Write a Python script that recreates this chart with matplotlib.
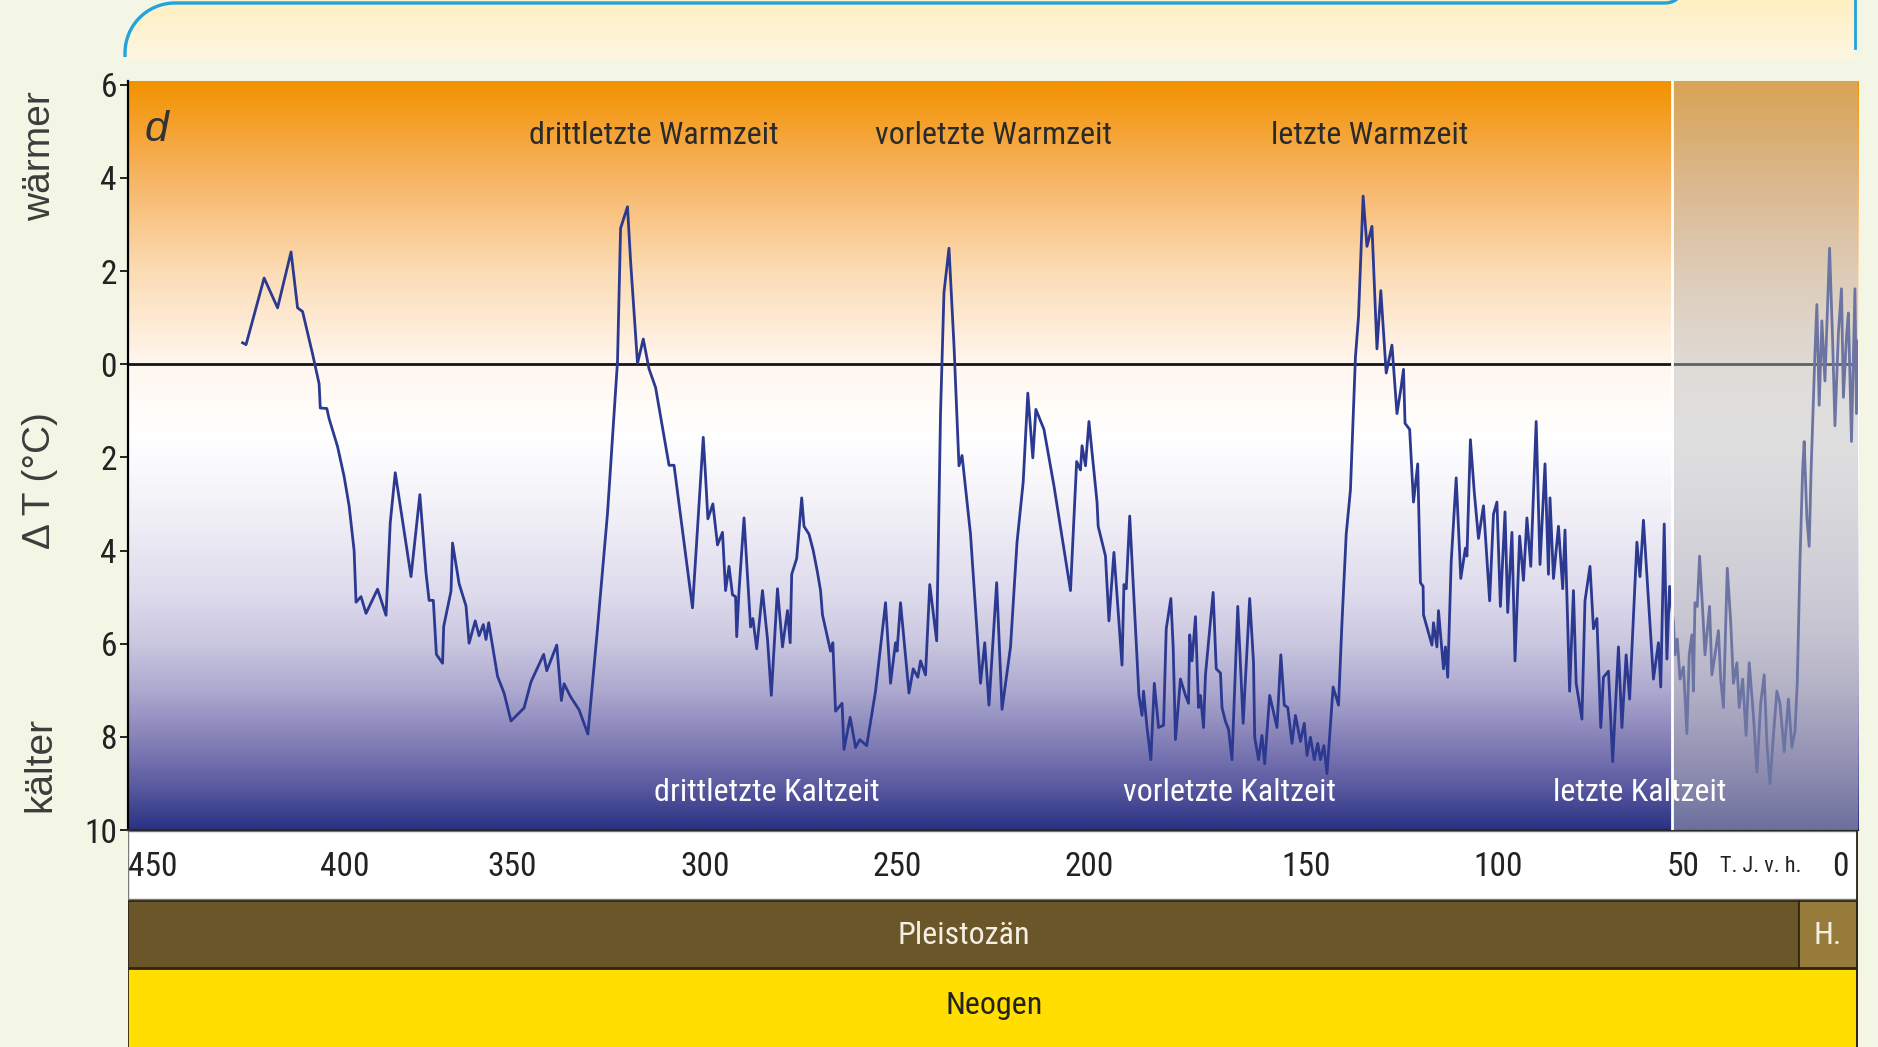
import os
import numpy as np
import matplotlib
matplotlib.use("Agg")
import matplotlib.pyplot as plt
from matplotlib import font_manager as fm
from matplotlib.font_manager import FontProperties
from matplotlib.colors import LinearSegmentedColormap, Normalize
from matplotlib.patches import Rectangle, Polygon
from matplotlib.transforms import ScaledTranslation

W, H = 1878, 1047
SANS = ["Liberation Sans", "DejaVu Sans"]

# temperature difference to today (degC), thousand years before present
AGE_KA = [
    420.2, 419.3, 414.6, 411.1, 407.6, 405.9, 404.6, 402.0, 400.3, 400.0,
    398.3, 397.7, 395.5, 393.8, 392.5, 391.2, 390.7, 389.4, 388.1, 385.1,
    382.9, 381.8, 380.5, 376.4, 374.1, 372.5, 371.7, 370.6, 369.8, 368.2,
    367.9, 366.0, 365.6, 363.9, 362.1, 361.3, 359.7, 358.7, 357.6, 356.9,
    356.2, 353.9, 352.2, 350.4, 347.0, 345.2, 341.9, 341.1, 338.5, 337.3,
    336.6, 334.9, 332.7, 330.4, 327.9, 325.3, 322.7, 321.9, 320.1, 319.3,
    317.5, 316.0, 314.5, 312.8, 309.3, 308.0, 303.2, 300.4, 299.8, 299.2,
    297.9, 296.7,
    295.4, 294.6, 293.7, 292.8, 292.0, 291.7, 291.1, 289.8, 288.1, 287.5,
    286.5, 285.0, 283.7, 282.7, 281.1, 279.8, 278.5, 277.8, 277.4, 276.1,
    274.8, 274.2, 272.9, 271.8, 270.7, 269.9, 269.4, 267.3, 266.7, 266.0,
    264.3, 263.8, 262.2, 260.8, 259.7, 257.9, 255.6, 253.0, 251.7, 250.4,
    250.0, 249.1, 246.9, 245.8, 244.6, 243.9, 242.6, 241.5, 239.7, 238.7,
    237.8, 236.5, 235.2, 233.9, 233.1, 230.9, 228.3, 227.2, 226.1, 224.1,
    222.7, 220.5, 218.8, 217.2, 216.0, 214.7, 213.9, 211.8, 209.2, 204.9,
    203.3, 202.3, 201.9, 201.0, 200.1, 198.0, 197.7, 195.8, 194.9, 193.6,
    192.3, 191.5, 191.0, 190.4, 189.5, 187.1, 186.3, 185.9, 185.0, 184.0,
    183.1, 182.0, 180.7, 180.0, 178.8, 178.2, 177.6, 176.3, 175.0, 174.2,
    173.9, 173.3, 172.4, 171.6, 171.1, 170.3, 169.8, 167.8, 167.0, 165.9,
    165.5, 164.6, 163.8, 162.9, 161.4, 160.0, 158.3, 157.3, 157.0, 156.0,
    155.1, 154.4, 153.1, 151.2, 150.2, 149.3, 148.4, 147.3, 146.4, 145.1,
    144.1, 143.4, 142.5, 141.5, 140.6, 139.9, 139.0, 138.2, 136.6, 135.2,
    134.3, 133.2, 132.1, 130.8, 130.0, 128.8, 127.8, 126.5, 125.2, 124.2,
    122.8, 121.3, 120.0, 119.0, 118.3, 117.9, 116.7, 115.7, 114.6, 113.9,
    113.2, 113.1, 110.9, 110.5, 109.6, 109.2, 107.9, 107.4, 106.8, 105.9,
    104.6, 103.4, 102.2, 101.8, 100.9, 99.9, 98.8, 97.5, 95.9, 94.9,
    94.0, 93.1, 91.9, 91.2, 90.1, 89.3, 88.1, 87.1, 86.2, 85.2,
    83.8, 82.8, 81.5, 80.6, 80.2, 79.3, 78.0, 76.9, 76.3, 75.1,
    74.1, 73.4, 71.9, 71.1, 69.8, 68.9, 68.0, 67.0, 66.3, 65.0,
    63.9, 62.4, 61.5, 60.4, 59.5, 57.6, 56.8, 55.9, 53.3, 52.0,
    51.4, 50.5,
    49.8, 49.1, 48.1, 47.7, 47.1, 46.4, 45.5, 44.6, 44.0, 43.3,
    42.9, 42.5, 41.9, 41.3, 40.5, 39.9, 38.7, 38.1, 37.3, 36.4,
    35.8, 35.1, 34.1, 33.2, 32.5, 31.6, 31.0, 30.1, 29.2, 28.4,
    27.3, 26.4, 25.4, 24.5, 23.8, 23.0, 22.1, 21.2, 20.4, 19.3,
    18.2, 17.3, 16.5, 15.9, 15.2, 14.5, 14.1, 13.4, 12.8, 12.3,
    11.7, 11.3, 10.8, 10.2, 9.5, 8.7, 7.5, 6.7, 6.1, 5.2,
    4.4, 3.9, 3.1, 2.6, 1.8, 0.9, 0.5, 0.0,
]
DELTA_T = [
    0.46, 0.42, 1.85, 1.21, 2.41, 1.21, 1.13, 0.22, -0.42, -0.94,
    -0.95, -1.17, -1.77, -2.41, -3.04, -4.00, -5.11, -4.99, -5.35, -4.83,
    -5.39, -3.40, -2.33, -4.56, -2.80, -4.48, -5.07, -5.07, -6.23, -6.42,
    -5.63, -4.87, -3.84, -4.71, -5.19, -5.99, -5.51, -5.83, -5.59, -5.91,
    -5.55, -6.70, -7.06, -7.66, -7.38, -6.82, -6.23, -6.58, -6.03, -7.22,
    -6.86, -7.14, -7.42, -7.94, -5.67, -3.20, 0.06, 2.92, 3.38, 2.21,
    0.02, 0.54, -0.10, -0.50, -2.17, -2.17, -5.23, -1.57, -2.41, -3.32,
    -3.00, -3.88,
    -3.61, -4.86, -4.34, -4.95, -4.99, -5.85, -4.86, -3.30, -5.64, -5.46,
    -6.11, -4.86, -5.90, -7.11, -4.82, -6.07, -5.29, -5.98, -4.51, -4.17,
    -2.87, -3.48, -3.65, -4.00, -4.47, -4.86, -5.38, -6.16, -5.98, -7.45,
    -7.28, -8.27, -7.58, -8.23, -8.06, -8.19, -7.02, -5.12, -6.85, -5.98,
    -6.16, -5.12, -7.06, -6.54, -6.72, -6.37, -6.67, -4.73, -5.94, -1.06,
    1.54, 2.49, 0.41, -2.18, -1.96, -3.65, -6.85, -5.98, -7.32, -4.69,
    -7.41, -6.07, -3.82, -2.53, -0.62, -2.01, -0.97, -1.40, -2.61, -4.86,
    -2.09, -2.27, -1.75, -2.18, -1.23, -2.96, -3.48, -4.12, -5.51, -4.04,
    -5.55, -6.46, -4.73, -4.82, -3.26, -7.11, -7.54, -7.02, -7.80, -8.49,
    -6.85, -7.80, -7.75, -5.68, -5.03, -6.07, -8.06, -6.76, -7.11, -7.28,
    -5.81, -6.37, -5.42, -7.37, -7.11, -7.80, -6.67, -4.90, -6.54, -6.63,
    -7.37, -7.67, -7.84, -8.49, -5.20, -7.71, -5.03, -6.41, -8.01, -8.49,
    -7.97, -8.58, -7.11, -7.80, -6.24, -7.32, -7.37, -8.14, -7.54, -8.10,
    -7.71, -8.40, -8.01, -8.49, -8.14, -8.49, -8.19, -8.79, -6.93, -7.32,
    -5.55, -3.65, -2.70, 0.15, 1.02, 3.61, 2.53, 2.96, 0.33, 1.58,
    -0.19, 0.41, -1.06, -0.54, -0.11, -1.27, -1.40, -2.96, -2.14, -4.69,
    -4.77, -5.38, -6.03, -5.55, -6.07, -5.29, -6.54, -6.07, -6.72, -4.25,
    -2.44, -4.60, -3.95, -4.12, -1.62, -2.74, -3.74, -3.04, -5.08, -3.22,
    -2.96, -5.20, -3.17, -5.33, -3.61, -6.37, -3.69, -4.64, -3.30, -4.34,
    -1.23, -4.30, -2.14, -4.51, -2.87, -4.60, -3.48, -4.82, -3.56, -7.02,
    -4.86, -6.85, -7.62, -5.08, -4.34, -5.68, -5.46, -7.80, -6.72, -6.59,
    -8.53, -6.07, -7.80, -6.24, -7.19, -3.82, -4.56, -3.35, -6.76, -5.98,
    -6.93, -3.43,
    -6.33, -4.77, -5.55, -6.24, -5.90, -6.76, -6.50, -7.93, -6.24, -5.81,
    -7.02, -5.12, -5.20, -4.12, -5.29, -6.24, -5.20, -6.67, -6.24, -5.72,
    -6.76, -7.37, -4.38, -5.55, -6.85, -6.41, -7.37, -6.76, -7.97, -6.41,
    -7.54, -8.75, -7.28, -6.67, -8.14, -9.01, -7.97, -7.02, -7.28, -8.32,
    -7.19, -8.23, -7.88, -6.85, -4.25, -2.27, -1.66, -3.30, -3.91, -2.27,
    -0.80, 0.24, 1.28, -0.88, 0.93, -0.36, 2.49, 0.50, -1.32, 0.67,
    1.62, -0.71, 0.59, 1.10, -1.66, 1.62, -1.06, 0.50,
]
assert len(AGE_KA) == len(DELTA_T)

X_TICKS = [450, 400, 350, 300, 250, 200, 150, 100, 50, 0]
X_TICK_LABELS = [str(t) for t in X_TICKS]
Y_TICKS = [6, 4, 2, 0, -2, -4, -6, -8, -10]
Y_TICK_LABELS = ["6", "4", "2", "0", "2", "4", "6", "8", "10"]

WARM_PERIODS = ["drittletzte Warmzeit", "vorletzte Warmzeit", "letzte Warmzeit"]
COLD_PERIODS = ["drittletzte Kaltzeit", "vorletzte Kaltzeit", "letzte Kaltzeit"]
EPOCHS = ["Pleistozän", "H."]
SYSTEM = "Neogen"
GREY_FROM_KA = 48.5
YMIN, YMAX = -10, 6.08


def find_narrow():
    """regular-weight condensed sans from the installed fonts, if there is one"""
    paths = sorted({f.fname for f in fm.fontManager.ttflist})
    prefs = ["LiberationSansNarrow-Regular", "NotoSans-Condensed.", "RobotoCondensed-Regular",
             "DejaVuSansCondensed.", "OpenSans_Condensed-Regular", "NotoSans-ExtraCondensed.",
             "NotoSans-SemiCondensed."]
    for p in prefs:
        for f in paths:
            if p in os.path.basename(f):
                return f
    skip = ("Bold", "Italic", "Oblique", "Light", "Thin", "Black", "Medium", "Mono", "Serif")
    for f in paths:
        b = os.path.basename(f)
        if ("Condensed" in b or "Narrow" in b) and not any(k in b for k in skip):
            return f
    return None


NARROW_PATH = find_narrow()


def narrow(size):
    if NARROW_PATH:
        return FontProperties(fname=NARROW_PATH, size=size)
    return FontProperties(family="DejaVu Sans", size=size * 0.72)


def box(l, t, r, b):
    """figure-fraction rect from pixel edges, measured from the top-left"""
    return [l / W, 1 - b / H, (r - l) / W, (b - t) / H]


fig = plt.figure(figsize=(W / 100, H / 100), dpi=100, facecolor="#f3f6e4")

# pale yellow strip at the top with a cyan rim
top = fig.add_axes(box(0, 0, W, 60))
th = np.linspace(np.pi, 1.5 * np.pi, 30)
arc_x, arc_y = 175 + 50 * np.cos(th), 53 + 50 * np.sin(th)
panel = Polygon(np.column_stack([np.r_[125, arc_x, 175, 1855, 1855],
                                 np.r_[60, arc_y, 0, 0, 60]]), closed=True, fc="none", ec="none")
top.add_patch(panel)
yl = LinearSegmentedColormap.from_list("yl", ["#fff0c2", "#fdf6e2"])
im = top.imshow(np.linspace(0, 1, 60).reshape(-1, 1), extent=[0, W, 60, 0], cmap=yl, aspect="auto")
im.set_clip_path(panel)
th2 = np.linspace(0.5 * np.pi, 0, 20)
top.plot(np.r_[125, arc_x, 1665 + 20 * np.cos(th2)], np.r_[57, arc_y, -17 + 20 * np.sin(th2)],
         color="#22a3de", lw=2.4, solid_capstyle="butt")
top.plot([1855, 1855], [0, 48], color="#22a3de", lw=2)
top.set_xlim(0, W); top.set_ylim(60, 0); top.axis("off")

# main panel
ax = fig.add_axes(box(128, 81, 1858.4, 830))
ax.set_zorder(2)
stops = [(-10, "#2b3384"), (-9, "#5f5ea3"), (-8, "#8884ba"), (-7, "#aeaad0"), (-6, "#cac7e0"),
         (-5, "#dddaec"), (-3, "#f4f2f8"), (-1.5, "#ffffff"), (0, "#fff7ef"), (2, "#fcdcb5"),
         (4, "#f7b566"), (YMAX, "#f39200")]
cmap = LinearSegmentedColormap.from_list(
    "temp", [((v - YMIN) / (YMAX - YMIN), c) for v, c in stops])
ax.imshow(np.linspace(YMIN, YMAX, 800).reshape(-1, 1), extent=[450, 0, YMIN, YMAX], origin="lower",
          aspect="auto", cmap=cmap, norm=Normalize(YMIN, YMAX), zorder=0, interpolation="bilinear")

ax.axhline(0, color="#151515", lw=2, zorder=2)
ax.plot(AGE_KA, DELTA_T, color="#2b3990", lw=2.0, zorder=3)
ax.axvspan(GREY_FROM_KA, 0, fc="#bababa", alpha=0.46, lw=0, zorder=4)
ax.axvline(GREY_FROM_KA, color="white", lw=2, zorder=5)

for name, x in zip(WARM_PERIODS, [313.3, 224.9, 127.2]):
    ax.text(x, 4.9, name, ha="center", va="center", fontproperties=narrow(23),
            color="#2a2a2a", zorder=6)
for name, x in zip(COLD_PERIODS, [283.9, 163.6, 56.8]):
    ax.text(x, -9.2, name, ha="center", va="center", fontproperties=narrow(23),
            color="white", zorder=6)
ax.text(0.0098, 0.9346, "d", transform=ax.transAxes, ha="left", va="center", size=31,
        style="italic", family=SANS, color="#333333", zorder=6)
ax.text(25.5, -0.049, "T. J. v. h.", transform=ax.get_xaxis_transform(), ha="center",
        va="center", fontproperties=narrow(16), color="#222222")

ax.set_xlim(450, 0); ax.set_ylim(YMIN, YMAX)
ax.set_xticks(X_TICKS, X_TICK_LABELS)
ax.set_yticks(Y_TICKS, Y_TICK_LABELS)
ax.tick_params(axis="x", length=0, pad=15, labelcolor="#222222")
ax.tick_params(axis="y", length=6, width=1.2, pad=2, labelcolor="#222222")
for lbl in ax.get_xticklabels() + ax.get_yticklabels():
    lbl.set_fontproperties(narrow(24))
for tick, ha in zip(ax.xaxis.get_major_ticks(),
                    ["left", "left", "center", "center", "center", "center", "left", "left", "left", "right"]):
    tick.label1.set_horizontalalignment(ha)
# keep the "0" clear of the right frame line
last = ax.xaxis.get_major_ticks()[-1].label1
last.set_transform(last.get_transform() + ScaledTranslation(-0.1, 0, fig.dpi_scale_trans))
for side in ("top", "right"):
    ax.spines[side].set_visible(False)
ax.spines["left"].set_linewidth(1.6)
ax.spines["bottom"].set_linewidth(1.6); ax.spines["bottom"].set_color("#2a2a2a")

# stratigraphic bands under the time axis
bands = fig.add_axes(box(128, 830, 1858.4, H))
bands.set_zorder(1)
bands.set_xlim(0, 1730.4); bands.set_ylim(217, 0); bands.axis("off")
bands.add_patch(Rectangle((0, 1), 1728.6, 68, fc="white", ec="#7a7a7a", lw=1))
bands.add_patch(Rectangle((0, 71), 1671, 67, fc="#6a5628", ec="#2e2614", lw=1.3))
bands.add_patch(Rectangle((1671, 71), 57.6, 67, fc="#967b3b", ec="#2e2614", lw=1.3))
bands.add_patch(Rectangle((0, 139), 1728.6, 90, fc="#ffde00", ec="#2e2614", lw=1.3))
bands.plot([1728.6, 1728.6], [0, 217], color="#2e2614", lw=1.3)
bands.text(835.5, 105, EPOCHS[0], ha="center", va="center", fontproperties=narrow(23), color="#f4efe2")
bands.text(1700, 105, EPOCHS[1], ha="center", va="center", fontproperties=narrow(23), color="#f4efe2")
bands.text(866, 175, SYSTEM, ha="center", va="center", fontproperties=narrow(23), color="#222222")

# y-axis captions
for txt, y in [("wärmer", 156), ("Δ T (°C)", 481), ("kälter", 764)]:
    fig.text(40 / W, 1 - y / H, txt, rotation=90, ha="center", va="center", size=28,
             family=SANS, color="#3c3c3c")

fig.savefig("out.png", dpi=100, facecolor=fig.get_facecolor())
